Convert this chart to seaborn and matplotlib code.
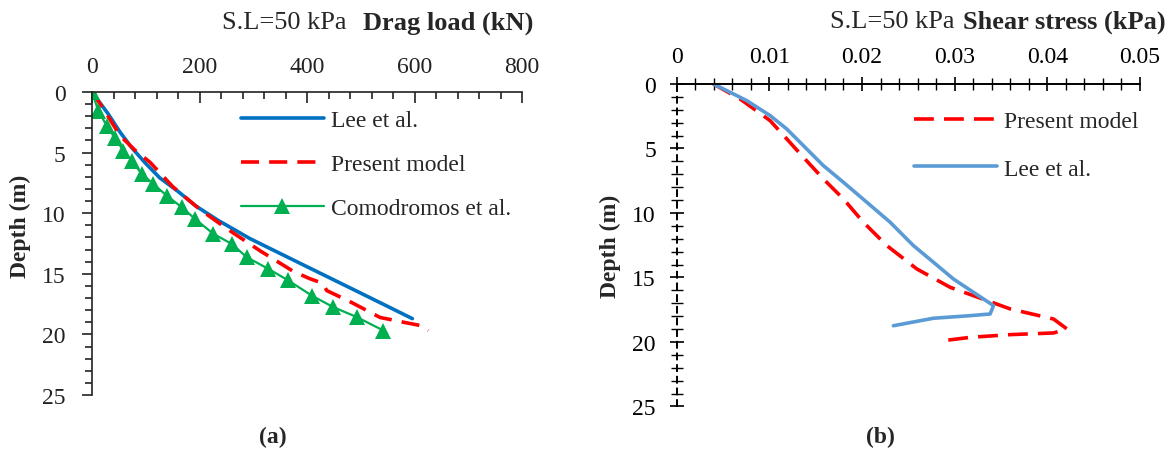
import numpy as np
import pandas as pd
import matplotlib
matplotlib.use("Agg")
import matplotlib.pyplot as plt
import seaborn as sns
from matplotlib.ticker import MultipleLocator

# ---- Data: panel (a) drag load ----
lee_a_load = [0, 30, 52, 74, 100, 126.5, 160, 193, 235, 294, 374.5, 430,
              480, 540, 596]
lee_a_depth = [0, 1.8, 3.3, 4.6, 5.9, 7.1, 8.2, 9.4, 10.6, 12.1, 13.86,
               15.07, 16.16, 17.47, 18.7]

pm_a_load = [0, 20, 52, 80, 108, 150, 201, 255, 312.6, 374.5, 405, 424, 432,
             436.6, 480, 535.8, 580, 610, 625.7]
pm_a_depth = [0, 1.3, 3.6, 4.8, 5.8, 7.8, 9.7, 11.4, 13.1, 14.8, 15.4, 15.7,
              16.0, 16.38, 17.3, 18.6, 19.0, 19.26, 19.68]

com_a_load = [0, 11.8, 27.3, 42.8, 58.3, 73.8, 92.4, 114, 138.9, 166.8, 191.6,
              225.7, 259.9, 287.8, 328, 365.2, 408.6, 448.9, 492.5, 542]
com_a_depth = [0, 1.54, 2.78, 3.82, 4.83, 5.66, 6.76, 7.58, 8.55, 9.5, 10.47,
               11.7, 12.53, 13.63, 14.59, 15.55, 16.79, 17.75, 18.57, 19.68]

# ---- Data: panel (b) shear stress ----
pm_b_stress = [0.00396, 0.00684, 0.01008, 0.01188, 0.01367, 0.01583, 0.01799,
               0.02015, 0.02268, 0.02592, 0.02951, 0.03203, 0.0360, 0.04067,
               0.04212, 0.04067, 0.0360, 0.03168, 0.02879]
pm_b_depth = [0, 1.16, 2.84, 4.26, 5.68, 7.36, 8.91, 10.72, 12.53, 14.34,
              15.76, 16.41, 17.44, 18.22, 18.99, 19.3, 19.43, 19.64, 19.9]

lee_b_stress = [0.00396, 0.00756, 0.01008, 0.01188, 0.01583, 0.01799, 0.02052,
                0.02304, 0.02555, 0.02771, 0.02987, 0.03203, 0.03419, 0.03383,
                0.03168, 0.02771, 0.02339]
lee_b_depth = [0, 1.29, 2.45, 3.49, 6.33, 7.62, 9.17, 10.72, 12.53, 13.82,
               15.12, 16.15, 17.18, 17.83, 17.96, 18.16, 18.74]

sns.set_style("ticks")
plt.rcParams['font.family'] = ['Liberation Serif', 'DejaVu Serif']

FS = 17
TFS = 19
fig = plt.figure(figsize=(11.75, 4.52), dpi=100)
axA = fig.add_axes([0.0783, 0.1239, 0.366, 0.6703])
axB = fig.add_axes([0.5759, 0.0985, 0.3943, 0.7135])

# ---- panel (a) ----
dfA1 = pd.DataFrame({"x": lee_a_load, "y": lee_a_depth})
dfA2 = pd.DataFrame({"x": pm_a_load, "y": pm_a_depth})
dfA3 = pd.DataFrame({"x": com_a_load, "y": com_a_depth})
sns.lineplot(data=dfA1, x="x", y="y", sort=False, estimator=None, ax=axA,
             color="#0070C0", lw=2.6, label="Lee et al.")
sns.lineplot(data=dfA2, x="x", y="y", sort=False, estimator=None, ax=axA,
             color="#FF0000", lw=2.6, label="Present model")
axA.lines[-1].set_dashes([5, 2.8])
sns.lineplot(data=dfA3, x="x", y="y", sort=False, estimator=None, ax=axA,
             color="#00B050", lw=1.6, marker="^", markersize=11,
             markeredgewidth=0, label="Comodromos et al.")

axA.set_xlim(0, 800)
axA.set_ylim(25, 0)
axA.xaxis.set_ticks_position("top")
axA.xaxis.set_label_position("top")
axA.set_xticks([0, 200, 400, 600, 800])
axA.xaxis.set_minor_locator(MultipleLocator(40))
axA.set_yticks([0, 5, 10, 15, 20, 25])
axA.yaxis.set_minor_locator(MultipleLocator(1))
axA.tick_params(axis="x", which="major", direction="in", length=8, width=1.2,
                labelsize=FS, pad=11, colors="#222222")
axA.tick_params(axis="x", which="minor", direction="in", length=5, width=1.2,
                colors="#222222")
axA.tick_params(axis="y", which="major", direction="out", length=7, width=1.2,
                labelsize=FS, pad=12, colors="#222222")
axA.tick_params(axis="y", which="minor", direction="out", length=5, width=1.2,
                colors="#222222")
for s in ["right", "bottom"]:
    axA.spines[s].set_visible(False)
for s in ["top", "left"]:
    axA.spines[s].set_linewidth(1.2)
    axA.spines[s].set_color("#222222")
axA.set_xlabel("")
axA.set_ylabel("Depth (m)", fontsize=FS, fontweight="bold")
axA.yaxis.set_label_coords(-0.142, 0.561)
axA.legend(loc="upper left", bbox_to_anchor=(0.187, 0.802),
           bbox_transform=fig.transFigure, frameon=False, fontsize=FS,
           handlelength=3.5, labelspacing=0.95, handletextpad=0.3)
fig.text(222 / 1175, 1 - 23 / 452, "S.L=50 kPa", fontsize=TFS, ha="left",
         va="center")
fig.text(363 / 1175, 1 - 23 / 452, "Drag load (kN)", fontsize=TFS,
         fontweight="bold", ha="left", va="center")
fig.text(0.232, 0.033, "(a)", fontsize=FS, fontweight="bold", ha="center",
         va="center")

# ---- panel (b) ----
dfB1 = pd.DataFrame({"x": pm_b_stress, "y": pm_b_depth})
dfB2 = pd.DataFrame({"x": lee_b_stress, "y": lee_b_depth})
sns.lineplot(data=dfB1, x="x", y="y", sort=False, estimator=None, ax=axB,
             color="#FF0000", lw=2.6, label="Present model")
axB.lines[-1].set_dashes([5.5, 2.8])
sns.lineplot(data=dfB2, x="x", y="y", sort=False, estimator=None, ax=axB,
             color="#5B9BD5", lw=2.6, label="Lee et al.")
axB.set_xlim(0, 0.05)
axB.set_ylim(25, 0)
axB.xaxis.set_ticks_position("top")
axB.set_xticks([0, 0.01, 0.02, 0.03, 0.04, 0.05])
axB.set_xticklabels(["0", "0.01", "0.02", "0.03", "0.04", "0.05"])
axB.xaxis.set_minor_locator(MultipleLocator(0.002))
axB.set_yticks([0, 5, 10, 15, 20, 25])
axB.yaxis.set_minor_locator(MultipleLocator(1))
axB.tick_params(axis="both", which="major", direction="inout", length=10,
                width=1.2, labelsize=FS, colors="black")
axB.tick_params(axis="both", which="minor", direction="inout", length=8,
                width=1.0, colors="black")
axB.tick_params(axis="x", which="major", pad=7)
axB.tick_params(axis="y", which="major", pad=10)
for s in ["right", "bottom"]:
    axB.spines[s].set_visible(False)
axB.spines["top"].set_linewidth(1.4)
axB.spines["top"].set_color("black")
axB.spines["left"].set_linewidth(1.4)
axB.spines["left"].set_color("black")
axB.spines["left"].set_linestyle((0, (3, 3)))
axB.set_xlabel("")
axB.set_ylabel("Depth (m)", fontsize=FS, fontweight="bold", labelpad=8)
axB.legend(loc="upper left", bbox_to_anchor=(0.760, 0.800),
           bbox_transform=fig.transFigure, frameon=False, fontsize=FS,
           handlelength=3.5, labelspacing=1.1, handletextpad=0.3)
fig.text(830 / 1175, 1 - 22 / 452, "S.L=50 kPa", fontsize=TFS, ha="left",
         va="center")
fig.text(963 / 1175, 1 - 22 / 452, "Shear stress (kPa)", fontsize=TFS,
         fontweight="bold", ha="left", va="center")
fig.text(0.749, 0.033, "(b)", fontsize=FS, fontweight="bold", ha="center",
         va="center")

fig.savefig("out.png", dpi=100)
